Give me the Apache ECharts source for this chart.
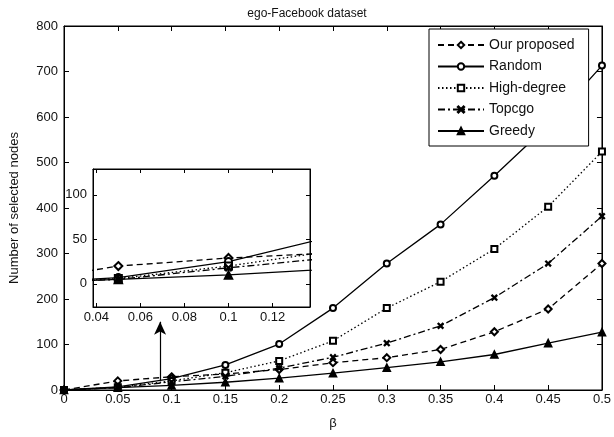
<!DOCTYPE html>
<html><head><meta charset="utf-8">
<script src="https://cdn.jsdelivr.net/npm/echarts@6/dist/echarts.min.js"></script>
<style>html,body{margin:0;padding:0;background:#fff}#c{width:614px;height:437px}</style>
</head><body><div id="c"></div>
<script>
const beta = [0, 0.05, 0.1, 0.15, 0.2, 0.25, 0.3, 0.35, 0.4, 0.45, 0.5];
const ourProposed = [0, 20, 29, 35, 45, 60, 71, 89, 128, 178, 278];
const randomSel   = [0, 7, 25, 55, 101, 180, 278, 364, 471, 582, 713];
const highDegree  = [0, 6, 20, 38, 64, 108, 180, 238, 310, 403, 524];
const topcgo      = [0, 5, 18, 30, 48, 72, 103, 141, 203, 278, 382];
const greedy      = [0, 5, 10, 17, 26, 37, 49, 62, 78, 103, 127];
const seriesNames = ['Our proposed', 'Random', 'High-degree', 'Topcgo', 'Greedy'];
const insetXTicks = [0.04, 0.06, 0.08, 0.1, 0.12];
const insetYTicks = [0, 50, 100];
const arrowFrom = [0.0893, 22];
const arrowTo = [0.0893, 150];

const crossPath = 'path://M0,1 L1,0 L5,4 L9,0 L10,1 L6,5 L10,9 L9,10 L5,6 L1,10 L0,9 L4,5 Z';
const styles = [
  {type: [6, 4], symbol: 'emptyDiamond', size: 7},
  {type: 'solid', symbol: 'emptyCircle', size: 6},
  {type: [1.5, 2.5], symbol: 'emptyRect', size: 6},
  {type: [7, 3, 2, 3], symbol: crossPath, size: 5},
  {type: 'solid', symbol: 'triangle', size: 7}
];
const values = [ourProposed, randomSel, highDegree, topcgo, greedy];
const pairs = v => beta.map((b, i) => [b, v[i]]);
const font = 'Liberation Sans, Arial, sans-serif';

const chart = echarts.init(document.getElementById('c'), null, {renderer: 'canvas'});

function mkSeries(i, inset) {
  const s = styles[i];
  return {
    name: inset ? seriesNames[i] + ' ' : seriesNames[i],
    type: 'line',
    xAxisIndex: inset ? 2 : 0,
    yAxisIndex: inset ? 2 : 0,
    data: pairs(values[i]),
    symbol: s.symbol,
    symbolSize: inset ? s.size + 1 : s.size,
    showAllSymbol: true,
    clip: true,
    z: inset ? 12 : 2,
    lineStyle: {color: '#000', width: 1.3, type: s.type},
    itemStyle: {color: '#000', borderColor: '#000', borderWidth: 1.6},
    emphasis: {disabled: true},
    animation: false
  };
}

const series = [];
for (let i = 0; i < 5; i++) series.push(mkSeries(i, false));
for (let i = 0; i < 5; i++) series.push(mkSeries(i, true));
series[4].markLine = {
  silent: true,
  symbol: ['none', 'arrow'],
  symbolSize: [9, 13],
  label: {show: false},
  lineStyle: {color: '#000', width: 1.2, type: 'solid'},
  data: [[{coord: arrowFrom}, {coord: arrowTo}]],
  animation: false
};

const fmt = v => String(+(+v).toFixed(3));
const lab = {color: '#111', fontSize: 13, fontFamily: font};
const line = {show: true, onZero: false, lineStyle: {color: '#000'}};

chart.setOption({
  backgroundColor: '#fff',
  animation: false,
  title: {text: 'ego-Facebook dataset', left: 'center', top: 3,
    textStyle: {fontSize: 12, fontWeight: 'normal', color: '#111', fontFamily: font}},
  legend: {
    data: seriesNames, orient: 'vertical', left: 429, top: 29,
    padding: [9, 14, 8, 8], itemWidth: 46, itemHeight: 8, itemGap: 7.5,
    backgroundColor: '#fff', borderColor: '#000', borderWidth: 1,
    textStyle: {fontSize: 14, color: '#111', fontFamily: font},
    selectedMode: false, z: 20
  },
  grid: [
    {left: 62, right: 11, top: 26, bottom: 47, show: true, borderColor: '#000', borderWidth: 1, backgroundColor: 'transparent'},
    {left: 93, right: 304, top: 169, bottom: 130, show: true, borderColor: '#000', borderWidth: 1, backgroundColor: '#fff', z: 10}
  ],
  xAxis: [
    {type: 'value', gridIndex: 0, min: 0, max: 0.5, interval: 0.05, position: 'bottom',
      name: 'β', nameLocation: 'middle', nameGap: 27, nameTextStyle: {fontSize: 13, color: '#111', fontFamily: font},
      axisLine: line, axisTick: {inside: true, length: 5, lineStyle: {color: '#000'}},
      axisLabel: Object.assign({margin: 3, formatter: fmt}, lab), splitLine: {show: false}},
    {type: 'value', gridIndex: 0, min: 0, max: 0.5, interval: 0.05, position: 'top',
      axisLine: line, axisTick: {inside: true, length: 5, lineStyle: {color: '#000'}},
      axisLabel: {show: false}, splitLine: {show: false}},
    {type: 'value', gridIndex: 1, min: 0.0385, max: 0.137, position: 'bottom', z: 12,
      axisLine: line,
      axisTick: {inside: true, length: 4, customValues: insetXTicks, lineStyle: {color: '#000'}},
      axisLabel: Object.assign({margin: 4, customValues: insetXTicks, formatter: fmt}, lab), splitLine: {show: false}},
    {type: 'value', gridIndex: 1, min: 0.0385, max: 0.137, position: 'top', z: 12,
      axisLine: line,
      axisTick: {inside: true, length: 4, customValues: insetXTicks, lineStyle: {color: '#000'}},
      axisLabel: {show: false}, splitLine: {show: false}}
  ],
  yAxis: [
    {type: 'value', gridIndex: 0, min: 0, max: 800, interval: 100, position: 'left',
      name: 'Number of selected nodes', nameLocation: 'middle', nameGap: 43, nameRotate: 90,
      nameTextStyle: {fontSize: 13, color: '#111', fontFamily: font},
      axisLine: line, axisTick: {inside: true, length: 5, lineStyle: {color: '#000'}},
      axisLabel: Object.assign({margin: 6}, lab), splitLine: {show: false}},
    {type: 'value', gridIndex: 0, min: 0, max: 800, interval: 100, position: 'right',
      axisLine: line, axisTick: {inside: true, length: 5, lineStyle: {color: '#000'}},
      axisLabel: {show: false}, splitLine: {show: false}},
    {type: 'value', gridIndex: 1, min: -26, max: 129, position: 'left', z: 12,
      axisLine: line,
      axisTick: {inside: true, length: 4, customValues: insetYTicks, lineStyle: {color: '#000'}},
      axisLabel: Object.assign({margin: 6, customValues: insetYTicks}, lab), splitLine: {show: false}},
    {type: 'value', gridIndex: 1, min: -26, max: 129, position: 'right', z: 12,
      axisLine: line,
      axisTick: {inside: true, length: 4, customValues: insetYTicks, lineStyle: {color: '#000'}},
      axisLabel: {show: false}, splitLine: {show: false}}
  ],
  series: series
});
</script></body></html>
